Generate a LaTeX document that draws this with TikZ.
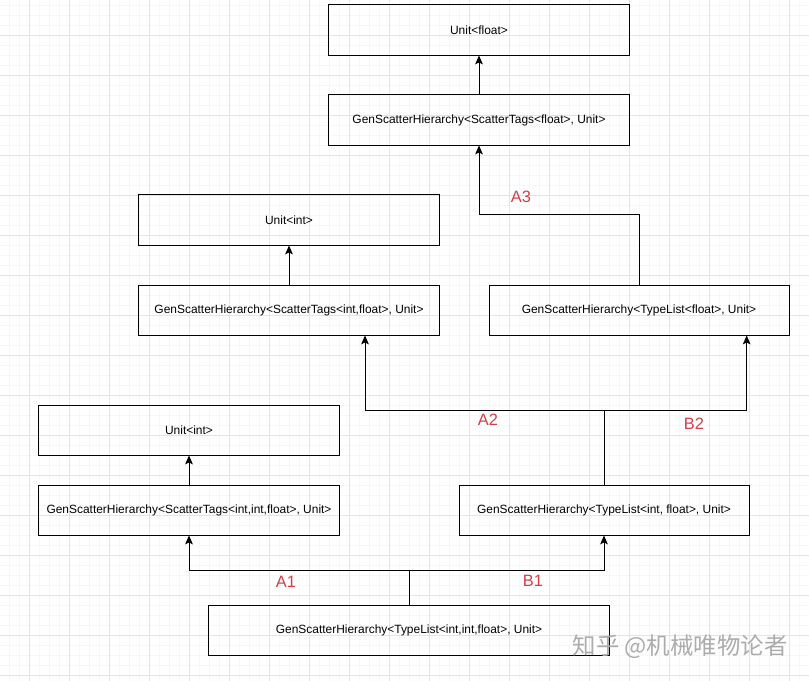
\documentclass[tikz,border=0pt]{standalone}
\usepackage{fontspec}
\setmainfont{Liberation Sans}
\newfontfamily\cjkfont{Noto Sans CJK SC}
\usetikzlibrary{arrows.meta}
\definecolor{lblred}{RGB}{214,62,72}
\definecolor{gridminor}{RGB}{247,247,247}
\definecolor{gridmajor}{RGB}{228,228,228}

\begin{document}
\begin{tikzpicture}
	[x=0.03cm,y=-0.03cm,
	 every node/.style={draw, rectangle, line width=0.85pt, minimum height=1.5cm, minimum width=9cm, inner sep=0pt, font=\fontsize{10.2}{12}\selectfont},
	 lbl/.style={draw=none, minimum size=0pt, text=lblred, font=\fontsize{14}{16}\selectfont},
	 arr/.style={line width=0.85pt, -{Stealth[length=7.5pt,width=6.5pt,inset=1.5pt]}},
	 ln/.style={line width=0.85pt}]
	\useasboundingbox (0,0) rectangle (809,681);
	\fill[white] (0,0) rectangle (809,681);
	% grid
	\foreach \x in {9,19,...,809} \draw[gridminor] (\x,0) -- (\x,681);
	\foreach \y in {5,15,...,681} \draw[gridminor] (0,\y) -- (809,\y);
	\foreach \x in {29,69,...,809} \draw[gridmajor] (\x,0) -- (\x,681);
	\foreach \y in {35,75,...,681} \draw[gridmajor] (0,\y) -- (809,\y);

	\node (uf) at (479,30) {Unit<float>};
	\node (stf) at (479,120) {GenScatterHierarchy<ScatterTags<float>, Unit>};
	\node (ui) at (289,220) {Unit<int>};
	\node (stif) at (289,310) {GenScatterHierarchy<ScatterTags<int,float>, Unit>};
	\node (tlf) at (639,310) {GenScatterHierarchy<TypeList<float>, Unit>};
	\node (uii) at (189,430) {Unit<int>};
	\node (stiif) at (189,510) {GenScatterHierarchy<ScatterTags<int,int,float>, Unit>};
	\node[minimum width=8.7cm] (tlif) at (604,510) {GenScatterHierarchy<TypeList<int, float>, Unit>};
	\node[minimum width=12cm] (tliif) at (409,630) {GenScatterHierarchy<TypeList<int,int,float>, Unit>};

	\draw[arr] (stf) -- (uf);
	\draw[arr] (stif) -- (ui);
	\draw[arr] (stiif) -- (uii);
	\draw[arr] (tlf.north) -- ++(0,-70) -| (stf.south);

	\coordinate (j2) at (604,410);
	\draw[ln] (tlif.north) -- (j2);
	\draw[arr] (j2) -| ([xshift=2.28cm]stif.south);
	\draw[arr] (j2) -| ([xshift=3.23cm]tlf.south);

	\coordinate (j1) at (409,570);
	\draw[ln] (tliif.north) -- (j1);
	\draw[arr] (j1) -| (stiif.south);
	\draw[arr] (j1) -| (tlif.south);

	\node[lbl] (a3) at (521,197) {A3};
	\node[lbl] (a2) at (488,420) {A2};
	\node[lbl] (b2) at (694,424) {B2};
	\node[lbl] (a1) at (286,582) {A1};
	\node[lbl] (b1) at (533,581) {B1};

	\node[draw=none, minimum size=0pt, text=gray!65, font=\cjkfont\fontsize{20}{22}\selectfont] (mark) at (680,647) {知乎 @机械唯物论者};
\end{tikzpicture}
\end{document}
